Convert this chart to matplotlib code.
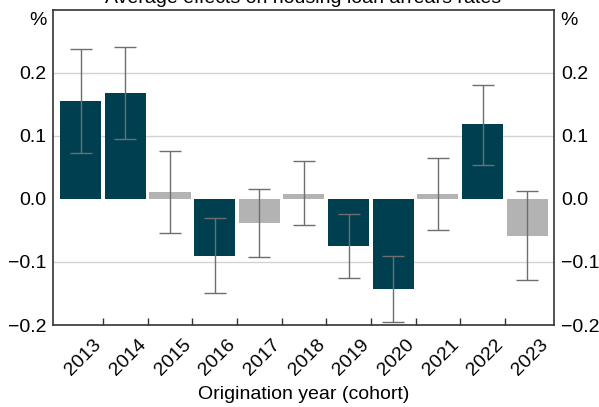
import matplotlib
matplotlib.use("Agg")
import matplotlib.pyplot as plt
import matplotlib.transforms as mtransforms
import numpy as np

plt.rcParams['font.family'] = ['Liberation Sans', 'DejaVu Sans']

years = ['2013', '2014', '2015', '2016', '2017', '2018', '2019', '2020', '2021', '2022', '2023']
effect = [0.155, 0.167, 0.010, -0.091, -0.038, 0.008, -0.075, -0.143, 0.007, 0.118, -0.059]
ci_low = [0.073, 0.094, -0.054, -0.149, -0.093, -0.042, -0.126, -0.195, -0.050, 0.054, -0.129]
ci_high = [0.238, 0.240, 0.075, -0.031, 0.015, 0.060, -0.024, -0.090, 0.065, 0.180, 0.012]
significant = [True, True, False, True, False, False, True, True, False, True, False]

y_ticks = [-0.2, -0.1, 0.0, 0.1, 0.2]
y_labels = ['\u22120.2', '\u22120.1', '0.0', '0.1', '0.2']

dark = '#003F4F'
light = '#B3B3B3'
fs = 14

fig = plt.figure(figsize=(5.99, 4.07), dpi=100)
ax = fig.add_axes([53/599, 1 - 325/407, (554-53)/599, (325-9.5)/407])

x = np.arange(len(years))
colors = [dark if s else light for s in significant]
eff = np.array(effect)
lo = eff - np.array(ci_low)
hi = np.array(ci_high) - eff

for yv in [-0.1, 0.1, 0.2]:
    ax.axhline(yv, color='#D3D3D3', lw=1.0, zorder=0)

ax.bar(x, eff, width=0.92, color=colors, zorder=2)
ax.errorbar(x, eff, yerr=[lo, hi], fmt='none', ecolor='#6E6E6E',
            elinewidth=1.0, capsize=8, capthick=1.0, zorder=3)

ax.set_xlim(-0.62, 10.6)
ax.set_ylim(-0.2, 0.3)

ax.set_yticks(y_ticks)
ax.set_yticklabels(y_labels)
ax.tick_params(axis='y', length=0, labelsize=fs, pad=5,
               left=False, right=False, labelleft=True, labelright=True)

ax.set_xticks(x)
ax.set_xticklabels(years, rotation=45, ha='center', va='top', fontsize=fs)
ax.tick_params(axis='x', which='major', length=0, pad=8)
shift = mtransforms.ScaledTranslation(3/100, 0, fig.dpi_scale_trans)
for lbl in ax.get_xticklabels():
    lbl.set_transform(lbl.get_transform() + shift)
ax.set_xticks(x[:-1] + 0.5, minor=True)
ax.tick_params(axis='x', which='minor', direction='in', length=5, width=1.0, color='#333333')

for s in ax.spines.values():
    s.set_color('#333333')
    s.set_linewidth(1.2)

ax.text(-0.012, 0.992, '%', transform=ax.transAxes, ha='right', va='top', fontsize=fs)
ax.text(1.012, 0.992, '%', transform=ax.transAxes, ha='left', va='top', fontsize=fs)

ax.set_xlabel('Origination year (cohort)', fontsize=fs, labelpad=5)

fig.text((53 + 554) / 2 / 599, 1 - 3/407, 'Average effects on housing loan arrears rates',
         ha='center', va='baseline', fontsize=fs)

fig.savefig('out.png', dpi=100)
